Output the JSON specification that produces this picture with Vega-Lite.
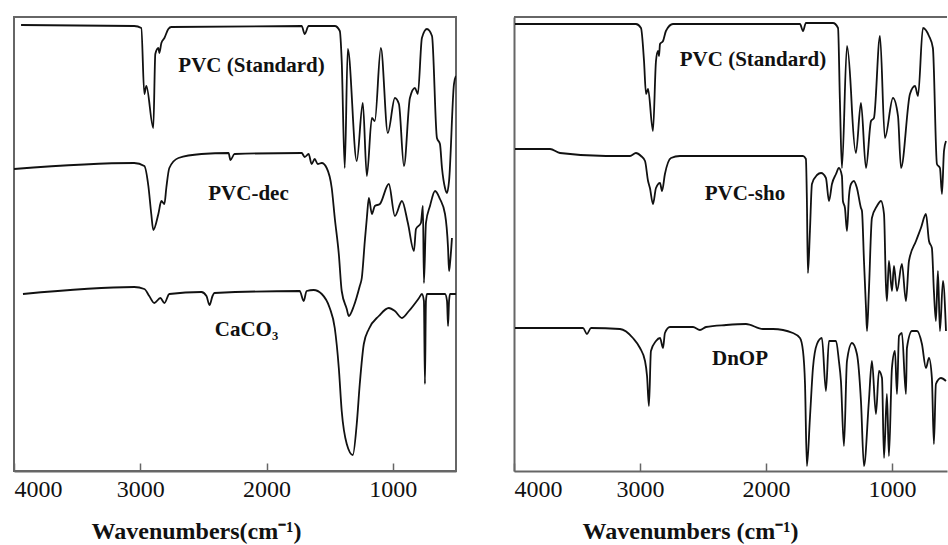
{
  "$schema": "https://vega.github.io/schema/vega-lite/v6.json",
  "padding": {"left": 12, "top": 16, "right": 0, "bottom": 0},
  "background": "white",
  "spacing": 56,
  "config": {
    "font": "Liberation Serif",
    "axisX": {
      "format": "d",
      "labelFont": "Liberation Serif",
      "labelFontSize": 24,
      "labelColor": "#111",
      "labelFlush": true,
      "labelPadding": 14,
      "tickSize": -8,
      "tickColor": "#666",
      "tickWidth": 1.5,
      "domainColor": "#666",
      "domainWidth": 2,
      "grid": false,
      "titleFont": "Liberation Serif",
      "titleFontSize": 24,
      "titleFontWeight": "bold",
      "titleColor": "#111",
      "titleAlign": "center",
      "titleBaseline": "alphabetic",
      "titleY": 67
    }
  },
  "datasets": {
    "left": [
      {"s":"std","w":3944,"t":446},{"s":"std","w":3048,"t":445},{"s":"std","w":2992,"t":443},{"s":"std","w":2968,"t":377},{"s":"std","w":2952,"t":385},{"s":"std","w":2897,"t":343},{"s":"std","w":2881,"t":417},{"s":"std","w":2857,"t":423},{"s":"std","w":2849,"t":418},{"s":"std","w":2833,"t":428},{"s":"std","w":2809,"t":433},{"s":"std","w":2778,"t":442},{"s":"std","w":2754,"t":444},{"s":"std","w":1722,"t":445},{"s":"std","w":1698,"t":437},{"s":"std","w":1667,"t":445},{"s":"std","w":1460,"t":445},{"s":"std","w":1420,"t":440},{"s":"std","w":1405,"t":410},{"s":"std","w":1381,"t":303},{"s":"std","w":1357,"t":422},{"s":"std","w":1286,"t":310},{"s":"std","w":1238,"t":368},{"s":"std","w":1206,"t":295},{"s":"std","w":1166,"t":353},{"s":"std","w":1143,"t":350},{"s":"std","w":1095,"t":423},{"s":"std","w":1040,"t":338},{"s":"std","w":984,"t":373},{"s":"std","w":952,"t":367},{"s":"std","w":912,"t":305},{"s":"std","w":865,"t":373},{"s":"std","w":825,"t":383},{"s":"std","w":802,"t":377},{"s":"std","w":770,"t":433},{"s":"std","w":730,"t":442},{"s":"std","w":690,"t":435},{"s":"std","w":651,"t":333},{"s":"std","w":627,"t":327},{"s":"std","w":611,"t":303},{"s":"std","w":587,"t":283},{"s":"std","w":571,"t":278},{"s":"std","w":555,"t":290},{"s":"std","w":516,"t":387},{"s":"std","w":500,"t":395},
      {"s":"dec","w":4000,"t":302},{"s":"dec","w":3048,"t":308},{"s":"dec","w":2968,"t":305},{"s":"dec","w":2936,"t":285},{"s":"dec","w":2913,"t":257},{"s":"dec","w":2897,"t":241},{"s":"dec","w":2857,"t":257},{"s":"dec","w":2833,"t":270},{"s":"dec","w":2809,"t":267},{"s":"dec","w":2794,"t":283},{"s":"dec","w":2770,"t":303},{"s":"dec","w":2698,"t":313},{"s":"dec","w":2516,"t":317},{"s":"dec","w":2301,"t":318},{"s":"dec","w":2286,"t":311},{"s":"dec","w":2254,"t":317},{"s":"dec","w":1722,"t":318},{"s":"dec","w":1698,"t":314},{"s":"dec","w":1667,"t":317},{"s":"dec","w":1643,"t":307},{"s":"dec","w":1619,"t":312},{"s":"dec","w":1595,"t":307},{"s":"dec","w":1563,"t":308},{"s":"dec","w":1524,"t":303},{"s":"dec","w":1484,"t":283},{"s":"dec","w":1460,"t":253},{"s":"dec","w":1428,"t":217},{"s":"dec","w":1405,"t":180},{"s":"dec","w":1365,"t":162},{"s":"dec","w":1349,"t":155},{"s":"dec","w":1309,"t":165},{"s":"dec","w":1262,"t":185},{"s":"dec","w":1246,"t":193},{"s":"dec","w":1222,"t":230},{"s":"dec","w":1206,"t":253},{"s":"dec","w":1190,"t":273},{"s":"dec","w":1166,"t":257},{"s":"dec","w":1143,"t":265},{"s":"dec","w":1103,"t":267},{"s":"dec","w":1032,"t":287},{"s":"dec","w":984,"t":255},{"s":"dec","w":928,"t":270},{"s":"dec","w":881,"t":248},{"s":"dec","w":833,"t":220},{"s":"dec","w":817,"t":242},{"s":"dec","w":778,"t":248},{"s":"dec","w":762,"t":265},{"s":"dec","w":754,"t":188},{"s":"dec","w":738,"t":248},{"s":"dec","w":706,"t":265},{"s":"dec","w":666,"t":280},{"s":"dec","w":627,"t":272},{"s":"dec","w":587,"t":257},{"s":"dec","w":563,"t":223},{"s":"dec","w":555,"t":200},{"s":"dec","w":547,"t":208},{"s":"dec","w":532,"t":233},
      {"s":"caco3","w":3929,"t":177},{"s":"caco3","w":3048,"t":184},{"s":"caco3","w":2968,"t":182},{"s":"caco3","w":2929,"t":175},{"s":"caco3","w":2889,"t":168},{"s":"caco3","w":2841,"t":173},{"s":"caco3","w":2809,"t":168},{"s":"caco3","w":2770,"t":177},{"s":"caco3","w":2516,"t":179},{"s":"caco3","w":2476,"t":175},{"s":"caco3","w":2452,"t":166},{"s":"caco3","w":2428,"t":175},{"s":"caco3","w":2413,"t":178},{"s":"caco3","w":1738,"t":180},{"s":"caco3","w":1706,"t":170},{"s":"caco3","w":1683,"t":180},{"s":"caco3","w":1627,"t":181},{"s":"caco3","w":1563,"t":177},{"s":"caco3","w":1500,"t":163},{"s":"caco3","w":1460,"t":143},{"s":"caco3","w":1428,"t":103},{"s":"caco3","w":1405,"t":60},{"s":"caco3","w":1365,"t":27},{"s":"caco3","w":1317,"t":16},{"s":"caco3","w":1286,"t":47},{"s":"caco3","w":1262,"t":87},{"s":"caco3","w":1230,"t":127},{"s":"caco3","w":1190,"t":142},{"s":"caco3","w":1111,"t":155},{"s":"caco3","w":1032,"t":163},{"s":"caco3","w":984,"t":160},{"s":"caco3","w":928,"t":153},{"s":"caco3","w":873,"t":160},{"s":"caco3","w":793,"t":173},{"s":"caco3","w":770,"t":177},{"s":"caco3","w":754,"t":170},{"s":"caco3","w":746,"t":87},{"s":"caco3","w":738,"t":170},{"s":"caco3","w":730,"t":177},{"s":"caco3","w":666,"t":177},{"s":"caco3","w":587,"t":177},{"s":"caco3","w":571,"t":170},{"s":"caco3","w":563,"t":145},{"s":"caco3","w":555,"t":170},{"s":"caco3","w":547,"t":177},{"s":"caco3","w":500,"t":177}
    ],
    "right": [
      {"s":"std","w":3992,"t":447},{"s":"std","w":3032,"t":447},{"s":"std","w":2992,"t":443},{"s":"std","w":2968,"t":410},{"s":"std","w":2952,"t":377},{"s":"std","w":2936,"t":382},{"s":"std","w":2897,"t":340},{"s":"std","w":2873,"t":410},{"s":"std","w":2857,"t":420},{"s":"std","w":2849,"t":415},{"s":"std","w":2841,"t":427},{"s":"std","w":2817,"t":430},{"s":"std","w":2794,"t":440},{"s":"std","w":2738,"t":447},{"s":"std","w":1730,"t":447},{"s":"std","w":1706,"t":440},{"s":"std","w":1683,"t":448},{"s":"std","w":1468,"t":448},{"s":"std","w":1428,"t":443},{"s":"std","w":1413,"t":370},{"s":"std","w":1397,"t":303},{"s":"std","w":1357,"t":425},{"s":"std","w":1325,"t":380},{"s":"std","w":1317,"t":360},{"s":"std","w":1286,"t":318},{"s":"std","w":1246,"t":368},{"s":"std","w":1206,"t":303},{"s":"std","w":1166,"t":350},{"s":"std","w":1143,"t":353},{"s":"std","w":1095,"t":435},{"s":"std","w":1056,"t":333},{"s":"std","w":992,"t":373},{"s":"std","w":952,"t":355},{"s":"std","w":928,"t":303},{"s":"std","w":857,"t":377},{"s":"std","w":817,"t":385},{"s":"std","w":793,"t":375},{"s":"std","w":754,"t":443},{"s":"std","w":706,"t":435},{"s":"std","w":675,"t":423},{"s":"std","w":643,"t":307},{"s":"std","w":619,"t":303},{"s":"std","w":603,"t":277},{"s":"std","w":587,"t":320},{"s":"std","w":571,"t":330},
      {"s":"sho","w":3992,"t":322},{"s":"sho","w":3714,"t":322},{"s":"sho","w":3635,"t":318},{"s":"sho","w":3270,"t":315},{"s":"sho","w":3079,"t":315},{"s":"sho","w":3032,"t":318},{"s":"sho","w":2992,"t":315},{"s":"sho","w":2960,"t":310},{"s":"sho","w":2936,"t":290},{"s":"sho","w":2921,"t":283},{"s":"sho","w":2897,"t":267},{"s":"sho","w":2873,"t":283},{"s":"sho","w":2841,"t":288},{"s":"sho","w":2825,"t":280},{"s":"sho","w":2802,"t":297},{"s":"sho","w":2754,"t":313},{"s":"sho","w":2683,"t":315},{"s":"sho","w":1706,"t":315},{"s":"sho","w":1683,"t":312},{"s":"sho","w":1675,"t":270},{"s":"sho","w":1667,"t":198},{"s":"sho","w":1651,"t":240},{"s":"sho","w":1635,"t":287},{"s":"sho","w":1595,"t":296},{"s":"sho","w":1563,"t":298},{"s":"sho","w":1524,"t":293},{"s":"sho","w":1500,"t":270},{"s":"sho","w":1476,"t":287},{"s":"sho","w":1444,"t":297},{"s":"sho","w":1421,"t":303},{"s":"sho","w":1397,"t":295},{"s":"sho","w":1389,"t":270},{"s":"sho","w":1373,"t":263},{"s":"sho","w":1357,"t":240},{"s":"sho","w":1341,"t":275},{"s":"sho","w":1325,"t":287},{"s":"sho","w":1302,"t":290},{"s":"sho","w":1278,"t":283},{"s":"sho","w":1246,"t":263},{"s":"sho","w":1238,"t":260},{"s":"sho","w":1222,"t":210},{"s":"sho","w":1206,"t":163},{"s":"sho","w":1198,"t":140},{"s":"sho","w":1183,"t":180},{"s":"sho","w":1159,"t":253},{"s":"sho","w":1119,"t":265},{"s":"sho","w":1087,"t":270},{"s":"sho","w":1063,"t":257},{"s":"sho","w":1048,"t":187},{"s":"sho","w":1040,"t":170},{"s":"sho","w":1024,"t":210},{"s":"sho","w":1000,"t":180},{"s":"sho","w":984,"t":205},{"s":"sho","w":960,"t":180},{"s":"sho","w":921,"t":207},{"s":"sho","w":889,"t":170},{"s":"sho","w":865,"t":210},{"s":"sho","w":809,"t":230},{"s":"sho","w":770,"t":243},{"s":"sho","w":730,"t":257},{"s":"sho","w":706,"t":230},{"s":"sho","w":683,"t":223},{"s":"sho","w":667,"t":180},{"s":"sho","w":651,"t":150},{"s":"sho","w":635,"t":200},{"s":"sho","w":619,"t":140},{"s":"sho","w":595,"t":190},{"s":"sho","w":571,"t":140},
      {"s":"dnop","w":3992,"t":143},{"s":"dnop","w":3452,"t":143},{"s":"dnop","w":3421,"t":137},{"s":"dnop","w":3389,"t":143},{"s":"dnop","w":3159,"t":142},{"s":"dnop","w":3056,"t":133},{"s":"dnop","w":3000,"t":123},{"s":"dnop","w":2960,"t":110},{"s":"dnop","w":2944,"t":95},{"s":"dnop","w":2929,"t":65},{"s":"dnop","w":2913,"t":120},{"s":"dnop","w":2873,"t":130},{"s":"dnop","w":2841,"t":133},{"s":"dnop","w":2817,"t":123},{"s":"dnop","w":2802,"t":138},{"s":"dnop","w":2762,"t":144},{"s":"dnop","w":2579,"t":144},{"s":"dnop","w":2524,"t":141},{"s":"dnop","w":2476,"t":144},{"s":"dnop","w":2317,"t":146},{"s":"dnop","w":2159,"t":147},{"s":"dnop","w":2024,"t":142},{"s":"dnop","w":1944,"t":142},{"s":"dnop","w":1786,"t":138},{"s":"dnop","w":1730,"t":133},{"s":"dnop","w":1706,"t":120},{"s":"dnop","w":1690,"t":87},{"s":"dnop","w":1675,"t":5},{"s":"dnop","w":1651,"t":53},{"s":"dnop","w":1627,"t":103},{"s":"dnop","w":1595,"t":127},{"s":"dnop","w":1556,"t":133},{"s":"dnop","w":1524,"t":80},{"s":"dnop","w":1500,"t":130},{"s":"dnop","w":1444,"t":130},{"s":"dnop","w":1421,"t":110},{"s":"dnop","w":1405,"t":90},{"s":"dnop","w":1381,"t":25},{"s":"dnop","w":1357,"t":110},{"s":"dnop","w":1317,"t":128},{"s":"dnop","w":1278,"t":117},{"s":"dnop","w":1246,"t":70},{"s":"dnop","w":1222,"t":5},{"s":"dnop","w":1183,"t":70},{"s":"dnop","w":1159,"t":110},{"s":"dnop","w":1127,"t":57},{"s":"dnop","w":1103,"t":100},{"s":"dnop","w":1079,"t":93},{"s":"dnop","w":1063,"t":13},{"s":"dnop","w":1040,"t":77},{"s":"dnop","w":1024,"t":15},{"s":"dnop","w":1000,"t":103},{"s":"dnop","w":976,"t":120},{"s":"dnop","w":960,"t":77},{"s":"dnop","w":944,"t":135},{"s":"dnop","w":921,"t":138},{"s":"dnop","w":889,"t":77},{"s":"dnop","w":881,"t":123},{"s":"dnop","w":841,"t":140},{"s":"dnop","w":801,"t":140},{"s":"dnop","w":762,"t":127},{"s":"dnop","w":730,"t":103},{"s":"dnop","w":706,"t":113},{"s":"dnop","w":683,"t":93},{"s":"dnop","w":667,"t":27},{"s":"dnop","w":651,"t":87},{"s":"dnop","w":611,"t":93},{"s":"dnop","w":571,"t":90}
    ],
    "leftLabels": [
      {"label":"PVC (Standard)","w":2119,"t":405},
      {"label":"PVC-dec","w":2143,"t":277},
      {"label":"CaCO₃","w":2159,"t":141}
    ],
    "rightLabels": [
      {"label":"PVC (Standard)","w":2103,"t":411},
      {"label":"PVC-sho","w":2167,"t":277},
      {"label":"DnOP","w":2206,"t":112}
    ]
  },
  "hconcat": [
    {
      "width": 442,
      "height": 454,
      "view": {"stroke": "#666", "strokeWidth": 2},
      "layer": [
        {
          "data": {"name": "left"},
          "mark": {"type": "line", "color": "#111", "strokeWidth": 1.8, "clip": true, "interpolate": "monotone"},
          "encoding": {
            "x": {"field": "w", "type": "quantitative", "scale": {"domain": [500, 4000], "reverse": true, "nice": false, "zero": false}, "axis": {"values": [4000, 3000, 2000, 1000], "title": "Wavenumbers(cm⁻¹)", "titleX": 182}},
            "y": {"field": "t", "type": "quantitative", "scale": {"domain": [0, 454], "nice": false, "zero": false}, "axis": null},
            "detail": {"field": "s"}
          }
        },
        {
          "data": {"name": "leftLabels"},
          "mark": {"type": "text", "font": "Liberation Serif", "fontSize": 21, "fontWeight": "bold", "color": "#111", "baseline": "middle"},
          "encoding": {
            "x": {"field": "w", "type": "quantitative"},
            "y": {"field": "t", "type": "quantitative"},
            "text": {"field": "label"}
          }
        }
      ]
    },
    {
      "width": 433,
      "height": 454,
      "view": {"stroke": null},
      "layer": [
        {
          "data": {"name": "right"},
          "mark": {"type": "line", "color": "#111", "strokeWidth": 1.8, "clip": true, "interpolate": "monotone"},
          "encoding": {
            "x": {"field": "w", "type": "quantitative", "scale": {"domain": [563, 4000], "reverse": true, "nice": false, "zero": false}, "axis": {"values": [4000, 3000, 2000, 1000], "title": "Wavenumbers (cm⁻¹)", "titleX": 176}},
            "y": {"field": "t", "type": "quantitative", "scale": {"domain": [0, 454], "nice": false, "zero": false}, "axis": {"labels": false, "ticks": false, "title": null, "grid": false, "domainColor": "#666", "domainWidth": 2}},
            "detail": {"field": "s"}
          }
        },
        {
          "data": {"name": "rightLabels"},
          "mark": {"type": "text", "font": "Liberation Serif", "fontSize": 21, "fontWeight": "bold", "color": "#111", "baseline": "middle"},
          "encoding": {
            "x": {"field": "w", "type": "quantitative"},
            "y": {"field": "t", "type": "quantitative"},
            "text": {"field": "label"}
          }
        },
        {
          "data": {"values": [{}]},
          "mark": {"type": "rule", "color": "#666", "strokeWidth": 2},
          "encoding": {"y": {"datum": 454}}
        }
      ]
    }
  ]
}
